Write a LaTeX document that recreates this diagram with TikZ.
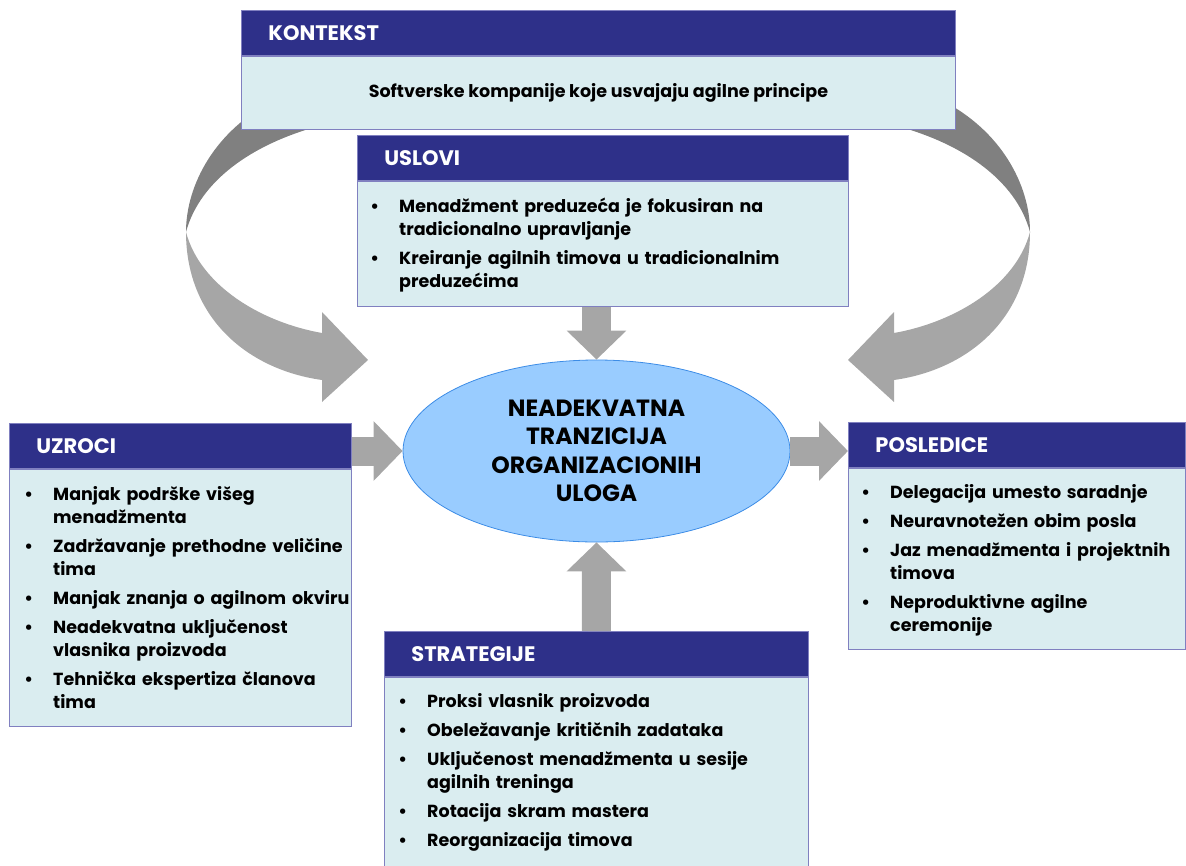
\documentclass[tikz,border=0pt]{standalone}
\usepackage{fontspec}
\setmainfont{Poppins}
\usepackage{enumitem}
\usetikzlibrary{positioning,arrows.meta,shapes.geometric}

\definecolor{tamnoplava}{RGB}{46,48,137}
\definecolor{svetloplava}{RGB}{218,237,240}
\definecolor{okvir}{RGB}{128,128,192}
\definecolor{siva}{RGB}{166,166,166}
\definecolor{tamnosiva}{RGB}{128,128,128}
\definecolor{elipsa}{RGB}{153,204,255}
\definecolor{elipsaokvir}{RGB}{60,140,230}

\setlist[itemize]{label=\textbullet,leftmargin=22pt,labelsep=20pt,topsep=0pt,partopsep=0pt,parsep=0pt,itemsep=6pt}

\tikzset{
  naslov/.style={fill=tamnoplava, draw=okvir, line width=0.8pt, text=white,
    font=\fontsize{21}{24}\selectfont\bfseries, minimum height=45pt,
    inner xsep=27pt, inner ysep=0pt, align=left, anchor=north west},
  tijelo/.style={fill=svetloplava, draw=okvir, line width=0.8pt, inner sep=0pt},
  stavke/.style={font=\fontsize{17.5}{23}\selectfont\bfseries, inner sep=0pt,
    anchor=base west, align=left},
  strelica/.style={draw=siva, line width=29pt, -{Triangle[width=58pt,length=29pt]}}
}

\begin{document}
\begin{tikzpicture}[x=1pt,y=-1pt]
\useasboundingbox (0,0) rectangle (1186,865);

% zakrivljene strelice iza konteksta
\foreach \pomak/\smer in {0/1,1216/-1}{
  \begin{scope}[xshift=\pomak pt, xscale=\smer]
    \fill[tamnosiva] (275,100) .. controls (215,130) and (186,185) .. (186,232)
      .. controls (200,180) and (255,140) .. (335,122) -- (300,100) -- cycle;
    \fill[siva] (186,232) .. controls (186,320) and (250,370) .. (322,380)
      -- (322,402) -- (368,360) -- (322,312) -- (322,333)
      .. controls (260,322) and (200,285) .. (186,232) -- cycle;
  \end{scope}
}

% kontekst
\node[naslov, text width=660pt] (kontekst) at (241,10) {KONTEKST};
\node[tijelo, minimum width=714pt, minimum height=73pt, below=0pt of kontekst,
  font=\fontsize{17.5}{23}\selectfont\bfseries] (kontekst-tijelo)
  {Softverske kompanije koje usvajaju agilne principe};

% uslovi
\node[naslov, text width=437pt] (uslovi) at (357,135) {USLOVI};
\node[tijelo, minimum width=491pt, minimum height=125pt, below=0pt of uslovi] (uslovi-tijelo) {};
\node[stavke, text width=465pt] (uslovi-tekst) at ([xshift=20pt,yshift=-9pt]uslovi-tijelo.north west) {
\begin{itemize}
\item Menadžment preduzeća je fokusiran na\newline tradicionalno upravljanje
\item Kreiranje agilnih timova u tradicionalnim\newline preduzećima
\end{itemize}};

% uzroci
\node[naslov, text width=288pt] (uzroci) at (9,423) {UZROCI};
\node[tijelo, minimum width=342pt, minimum height=257pt, below=0pt of uzroci] (uzroci-tijelo) {};
\node[stavke, text width=335pt] (uzroci-tekst) at ([xshift=22pt,yshift=-9pt]uzroci-tijelo.north west) {
\begin{itemize}
\item Manjak podrške višeg\newline menadžmenta
\item Zadržavanje prethodne veličine\newline tima
\item Manjak znanja o agilnom okviru
\item Neadekvatna uključenost\newline vlasnika proizvoda
\item Tehnička ekspertiza članova\newline tima
\end{itemize}};

% posledice
\node[naslov, text width=283pt] (posledice) at (848,422) {POSLEDICE};
\node[tijelo, minimum width=337pt, minimum height=181pt, below=0pt of posledice] (posledice-tijelo) {};
\node[stavke, text width=313pt] (posledice-tekst) at ([xshift=20pt,yshift=-8pt]posledice-tijelo.north west) {
\begin{itemize}
\item Delegacija umesto saradnje
\item Neuravnotežen obim posla
\item Jaz menadžmenta i projektnih\newline timova
\item Neproduktivne agilne\newline ceremonije
\end{itemize}};

% strategije
\node[naslov, text width=370pt] (strategije) at (384,631) {STRATEGIJE};
\node[tijelo, minimum width=424pt, minimum height=200pt, below=0pt of strategije] (strategije-tijelo) {};
\node[stavke, text width=398pt] (strategije-tekst) at ([xshift=21pt,yshift=-8pt]strategije-tijelo.north west) {
\begin{itemize}
\item Proksi vlasnik proizvoda
\item Obeležavanje kritičnih zadataka
\item Uključenost menadžmenta u sesije\newline agilnih treninga
\item Rotacija skram mastera
\item Reorganizacija timova
\end{itemize}};

% fenomen
\node[ellipse, fill=elipsa, draw=elipsaokvir, line width=0.8pt, minimum width=387pt,
  minimum height=182pt, align=center, font=\fontsize{23.5}{28.5}\selectfont\bfseries]
  (tranzicija) at (596.5,451) {NEADEKVATNA\\TRANZICIJA\\ORGANIZACIONIH\\ULOGA};

% strelice
\draw[strelica] (tranzicija.north |- uslovi-tijelo.south) -- (tranzicija.north);
\draw[strelica] (uzroci.east |- tranzicija.west) -- (tranzicija.west);
\draw[strelica] (tranzicija.east) -- (posledice.west |- tranzicija.east);
\draw[strelica] (strategije.north) -- (tranzicija.south);
\end{tikzpicture}
\end{document}
